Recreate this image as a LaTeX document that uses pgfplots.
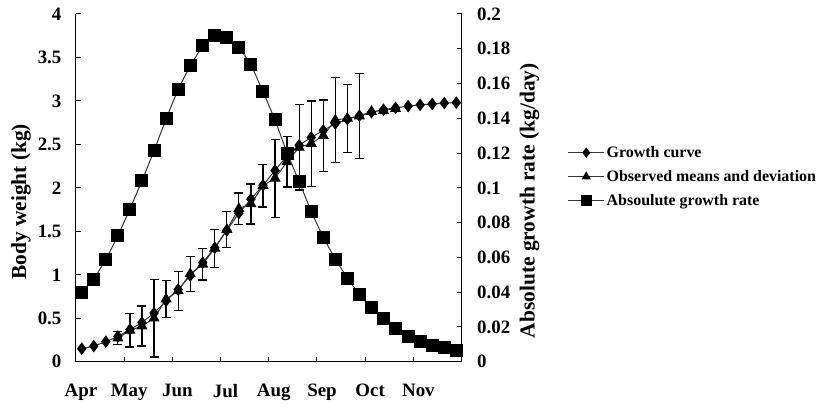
\documentclass[border=0pt]{standalone}
\usepackage{pgfplots}
\pgfplotsset{compat=1.18}
\usepackage{fontspec}
\setmainfont{Liberation Serif Bold}

\pgfplotstableread{
x y
0.12 0.15
0.37 0.18
0.62 0.23
0.87 0.29
1.12 0.37
1.37 0.45
1.62 0.56
1.87 0.70
2.12 0.83
2.37 0.99
2.63 1.14
2.88 1.31
3.13 1.51
3.38 1.71
3.63 1.87
3.88 2.03
4.13 2.20
4.38 2.37
4.63 2.49
4.88 2.58
5.13 2.66
5.38 2.74
5.63 2.79
5.88 2.83
6.13 2.87
6.38 2.90
6.63 2.92
6.89 2.94
7.14 2.955
7.39 2.965
7.64 2.975
7.89 2.98
}\growth

\pgfplotstableread{
x y e
0.87 0.27 0.075
1.12 0.36 0.19
1.37 0.41 0.23
1.62 0.50 0.445
1.87 0.72 0.21
2.12 0.815 0.225
2.37 1.01 0.20
2.63 1.12 0.18
2.88 1.305 0.22
3.13 1.52 0.205
3.38 1.76 0.18
3.63 1.815 0.23
3.88 2.025 0.245
4.13 2.11 0.45
4.38 2.30 0.29
4.63 2.465 0.49
4.88 2.51 0.49
5.13 2.60 0.41
5.38 2.78 0.49
5.63 2.80 0.39
5.88 2.825 0.49
6.13 2.877 0
6.38 2.889 0
6.63 2.91 0
}\observed

\pgfplotstableread{
x y
0.12 0.040
0.37 0.0475
0.62 0.0586
0.87 0.0724
1.12 0.0878
1.37 0.104
1.62 0.1213
1.87 0.1397
2.12 0.1567
2.37 0.1703
2.63 0.1818
2.88 0.1875
3.13 0.1864
3.38 0.1809
3.63 0.171
3.88 0.1553
4.13 0.1391
4.38 0.1199
4.63 0.1036
4.88 0.0864
5.13 0.0714
5.38 0.059
5.63 0.0481
5.88 0.0385
6.13 0.0309
6.38 0.0247
6.63 0.019
6.89 0.0146
7.14 0.0117
7.39 0.0095
7.64 0.0080
7.89 0.0067
}\rate

\newcommand{\tickfont}{\fontsize{19}{22}\selectfont}
\newcommand{\titlefont}{\fontsize{21.5}{25}\selectfont}

\pgfplotsset{
  common/.style={
    at={(76bp,46bp)}, anchor=south west,
    scale only axis, width=386bp, height=348bp,
    xmin=0, xmax=8, ymin=0,
    tick align=inside, major tick length=5bp,
    axis line style={black, line width=1bp},
    tick style={black, line width=1bp},
    /pgf/number format/assume math mode=true,
    tick label style={font=\tickfont},
    clip=false,
  },
  legend image code/.code={
    \draw[#1, mark repeat=2, mark phase=2, /tikz/every mark/.append style={scale=0.8}]
      plot coordinates {(0bp,0bp) (18bp,0bp) (36bp,0bp)};
  },
}

\begin{document}
\begin{tikzpicture}
\path (0,0) rectangle (821bp,408bp);
\begin{axis}[common,
  ymax=4,
  axis x line*=bottom, axis y line*=left,
  xtick={0,1,2,3,4,5,6,7,8},
  xticklabels={Apr,May,Jun,Jul,Aug,Sep,Oct,Nov,{}},
  xticklabel style={font=\tickfont, xshift=5bp, yshift=-19bp},
  ytick={0,0.5,1,1.5,2,2.5,3,3.5,4},
  yticklabels={0,0.5,1,1.5,2,2.5,3,3.5,4},
  yticklabel style={font=\tickfont, xshift=-11bp},
  ylabel={Body weight (kg)},
  ylabel style={at={(axis description cs:-0.1425,0.46)}, anchor=center,
    font=\titlefont},
]
\addplot[black!80, line width=1bp, mark=diamond*, mark size=5.5bp,
  mark options={black, fill=black, solid}] table[x=x,y=y] {\growth};
\addplot[black!80, line width=1bp, mark=triangle*, mark size=5.5bp,
  mark options={black, fill=black, solid},
  error bars/.cd, y dir=both, y explicit,
  error bar style={black, line width=1.2bp},
  error mark options={rotate=90, black, mark size=4.5bp, line width=1.2bp}]
  table[x=x,y=y,y error=e] {\observed};
\end{axis}
\begin{axis}[common,
  ymax=0.2,
  axis x line=none, axis y line*=right,
  ytick={0,0.02,0.04,0.06,0.08,0.1,0.12,0.14,0.16,0.18,0.2},
  yticklabels={0,0.02,0.04,0.06,0.08,0.1,0.12,0.14,0.16,0.18,0.2},
  yticklabel style={font=\tickfont, xshift=12bp},
  ylabel={Absolute growth rate (kg/day)},
  ylabel style={at={(axis description cs:1.176,0.463)}, anchor=center,
    font=\titlefont},
  legend cell align=left,
  legend style={draw=none, fill=none, at={(axis description cs:1.267,0.532)},
    anchor=west, font=\fontsize{16}{18}\selectfont, row sep=7.5bp},
]
\addlegendimage{black!80, line width=1bp, mark=diamond*, mark size=5.5bp,
  mark options={black, fill=black, solid}}
\addlegendentry{Growth curve}
\addlegendimage{black!80, line width=1bp, mark=triangle*, mark size=5.5bp,
  mark options={black, fill=black, solid}}
\addlegendentry{Observed means and deviation}
\addplot[black!80, line width=1bp, mark=square*, mark size=6bp,
  mark options={black, fill=black, solid}] table[x=x,y=y] {\rate};
\addlegendentry{Absoulute growth rate}
\end{axis}
\end{tikzpicture}
\end{document}
